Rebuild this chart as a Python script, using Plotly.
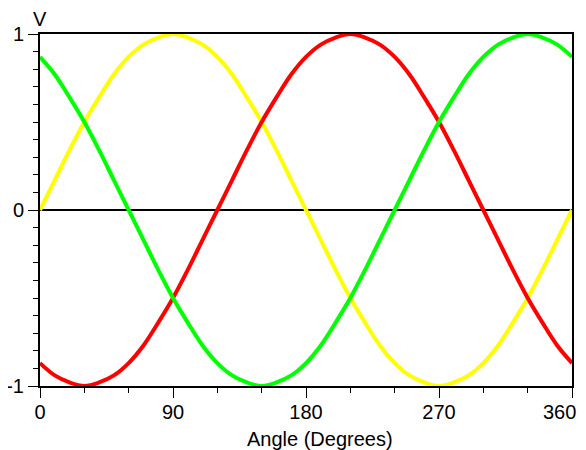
import plotly.graph_objects as go

angle = list(range(0, 361, 10))
yellow_v = [0, .17, .34, .50, .64, .77, .87, .94, .98, 1.0, .98, .94, .87, .77, .64, .50, .34, .17,
            0, -.17, -.34, -.50, -.64, -.77, -.87, -.94, -.98, -1.0, -.98, -.94, -.87, -.77, -.64, -.50, -.34, -.17, 0]
red_v = [-.87, -.94, -.98, -1.0, -.98, -.94, -.87, -.77, -.64, -.50, -.34, -.17, 0, .17, .34, .50, .64, .77,
         .87, .94, .98, 1.0, .98, .94, .87, .77, .64, .50, .34, .17, 0, -.17, -.34, -.50, -.64, -.77, -.87]
green_v = [.87, .77, .64, .50, .34, .17, 0, -.17, -.34, -.50, -.64, -.77, -.87, -.94, -.98, -1.0, -.98, -.94,
           -.87, -.77, -.64, -.50, -.34, -.17, 0, .17, .34, .50, .64, .77, .87, .94, .98, 1.0, .98, .94, .87]

x_ticks = [0, 90, 180, 270, 360]
x_ticktext = ["0", "90", "180", "270", ""]
x_last_label = "360"
y_ticks = [-1, 0, 1]
y_ticktext = ["-1", "0", "1"]

fig = go.Figure()
for vals, col in [(yellow_v, "#FFFF00"), (red_v, "#FF0000"), (green_v, "#00FF00")]:
    fig.add_trace(go.Scatter(x=angle, y=vals, mode="lines",
                             line=dict(color=col, width=4, shape="spline"),
                             cliponaxis=False, showlegend=False, hoverinfo="skip"))

font = "Liberation Sans, Arial, sans-serif"
fig.update_layout(
    width=578, height=442,
    margin=dict(l=32, r=14, t=26, b=64),
    paper_bgcolor="white", plot_bgcolor="white",
    font=dict(family=font, color="black", size=20),
    xaxis=dict(range=[0, 360], tickvals=x_ticks, ticktext=x_ticktext, showgrid=False, zeroline=False,
               automargin=False,
               showline=True, mirror=True, linecolor="black", linewidth=2,
               ticks="outside", ticklen=10, tickwidth=1, tickcolor="black",
               ticklabelstandoff=-3,
               minor=dict(dtick=30, tick0=0, ticks="outside", ticklen=5, tickcolor="black"),
               tickfont=dict(size=20)),
    yaxis=dict(range=[-1, 1], tickvals=y_ticks, ticktext=y_ticktext, showgrid=False, automargin=False,
               zeroline=True, zerolinecolor="black", zerolinewidth=2,
               showline=True, mirror=True, linecolor="black", linewidth=2,
               ticks="outside", ticklen=10, tickwidth=1, tickcolor="black",
               minor=dict(dtick=0.1, tick0=0, ticks="outside", ticklen=5, tickcolor="black"),
               tickfont=dict(size=20)),
    annotations=[
        dict(text="V", x=0, y=1, xref="paper", yref="paper", xanchor="center",
             yanchor="bottom", yshift=2, showarrow=False, font=dict(size=20)),
        dict(text=x_last_label, x=x_ticks[-1], y=0, xref="x", yref="paper", xanchor="right",
             yanchor="top", yshift=-13, xshift=6, showarrow=False, font=dict(size=20)),
        dict(text="Angle (Degrees)", x=0.5, y=0, xref="paper", yref="paper", xanchor="center",
             yanchor="top", yshift=-40, xshift=14, showarrow=False, font=dict(size=20)),
    ],
)
fig.write_html("out.html")
